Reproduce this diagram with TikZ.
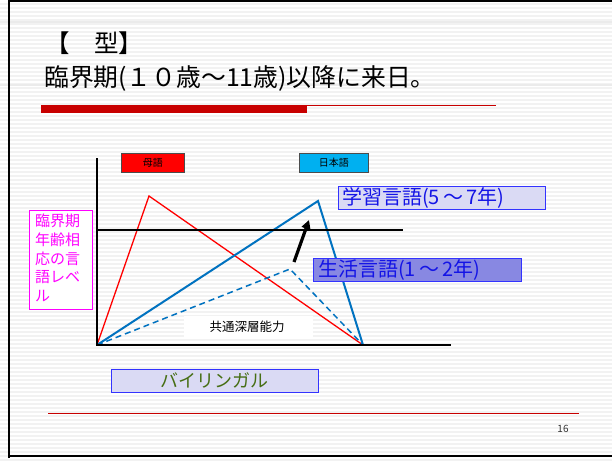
\documentclass[tikz,border=0pt]{standalone}
\usepackage{fontspec}
\setmainfont{Noto Sans CJK JP}
\usetikzlibrary{arrows.meta}
\definecolor{slidered}{RGB}{200,0,0}
\definecolor{lineblue}{RGB}{0,114,192}
\definecolor{boxcyan}{RGB}{0,176,240}
\definecolor{lavlight}{RGB}{218,218,244}
\definecolor{lavmid}{RGB}{136,136,226}
\definecolor{txtblue}{RGB}{20,20,230}
\definecolor{pinkm}{RGB}{255,0,255}
\definecolor{olive}{RGB}{70,110,20}
\tikzset{
  lbl/.style={inner sep=0pt, anchor=west},
  legendbox/.style={draw=black!70, line width=0.6pt, minimum width=63pt, minimum height=19pt, inner sep=0pt, font=\fontsize{10}{11}\selectfont},
  tagbox/.style={draw=blue!80, line width=0.8pt, inner sep=0pt, anchor=north west},
  curve/.style={line width=1.6pt, line join=miter},
}
\begin{document}
\begin{tikzpicture}[x=1pt,y=-1pt]
\useasboundingbox (0,0) rectangle (612,461);
% background with stripes
\fill[white] (0,0) rectangle (612,461);
\foreach \yy in {3,7,...,459} {\fill[black!5] (0,\yy) rectangle (612,\yy+1.6);}
\fill[black!8] (0,21) rectangle (612,23);
\fill[black!8] (0,84) rectangle (612,86);
% frame
\draw[line width=2.5pt] (9,458) -- (9,1.2) -- (614,1.2);
\draw[line width=2.5pt] (9,456) -- (614,456);
% title
\node[lbl, font=\fontsize{24.5}{26}\selectfont] (t1) at (45,43) {【　型】};
\node[lbl, font=\fontsize{24.8}{26}\selectfont] (t2) at (44,78) {臨界期(１０歳～11歳)以降に来日。};
\fill[slidered] (41,105) rectangle (307,113);
\fill[slidered] (307,104.6) rectangle (496,105.8);
% bottom line and page number
\fill[slidered] (48,412.5) rectangle (579,413.5);
\node[font=\fontsize{10}{11}\selectfont, text=black!80] (pg) at (563,429) {16};
% chart points
\coordinate (O) at (97,345);
\coordinate (Ytop) at (97,158);
\coordinate (Xend) at (451,345);
\coordinate (Hs) at (97,230);
\coordinate (He) at (403,230);
\coordinate (R1) at (149,196);
\coordinate (E) at (363,345);
\coordinate (B1) at (318,201);
\coordinate (D1) at (290,269);
\coordinate (A0) at (294,262);
\coordinate (A1) at (309,220);
% common deep ability white box
\node[fill=white, minimum width=129pt, minimum height=23pt, inner sep=0pt, anchor=north west] (cup) at (184,316) {};
\node[font=\fontsize{12.5}{13}\selectfont] (cuptxt) at (247,327) {共通深層能力};
% lines
\draw[curve, red, line width=1.3pt] (O) -- (R1) -- (E);
\draw[curve, lineblue, dashed, dash pattern=on 6pt off 4pt, line width=1.5pt] (O) -- (D1) -- (E);
\draw[curve, lineblue, line width=2pt] (O) -- (B1) -- (E);
\draw[line width=2pt] (Ytop) -- (O) -- (Xend);
\draw[line width=1.6pt] (Hs) -- (He);
\draw[line width=3.2pt, -{Triangle[length=9pt,width=9pt]}] (A0) -- (A1);
% legend boxes
\node[legendbox, fill=red, anchor=north west] (mg) at (121,153) {母語};
\node[legendbox, fill=boxcyan, anchor=north west, minimum width=69pt] (jp) at (299,153) {日本語};
% tag boxes
\node[tagbox, fill=lavlight, minimum width=207pt, minimum height=23pt] (gk) at (338,186) {};
\node[lbl, text=txtblue, font=\fontsize{20}{22}\selectfont] (gktxt) at (342,198) {学習言語(5\,～\,7年)};
\node[tagbox, fill=lavmid, minimum width=208pt, minimum height=23pt] (sk) at (313,258) {};
\node[lbl, text=txtblue, font=\fontsize{20}{22}\selectfont] (sktxt) at (318,270) {生活言語(1\,～\,2年)};
% pink box
\node[draw=pinkm, line width=0.8pt, fill=white, minimum width=63pt, minimum height=99pt, anchor=north west, inner sep=0pt] (pk) at (29,210) {};
\node[text=pinkm, align=left, font=\fontsize{15}{18.7}\selectfont, anchor=north west, inner sep=0pt] (pktxt) at (35,214) {臨界期\\年齢相\\応の言\\語レベ\\ル};
% bilingual box
\node[tagbox, fill=lavlight, minimum width=207pt, minimum height=23pt] (bl) at (111,369) {};
\node[text=olive, font=\fontsize{18}{20}\selectfont] (bltxt) at (214,380.5) {バイリンガル};
\end{tikzpicture}
\end{document}
